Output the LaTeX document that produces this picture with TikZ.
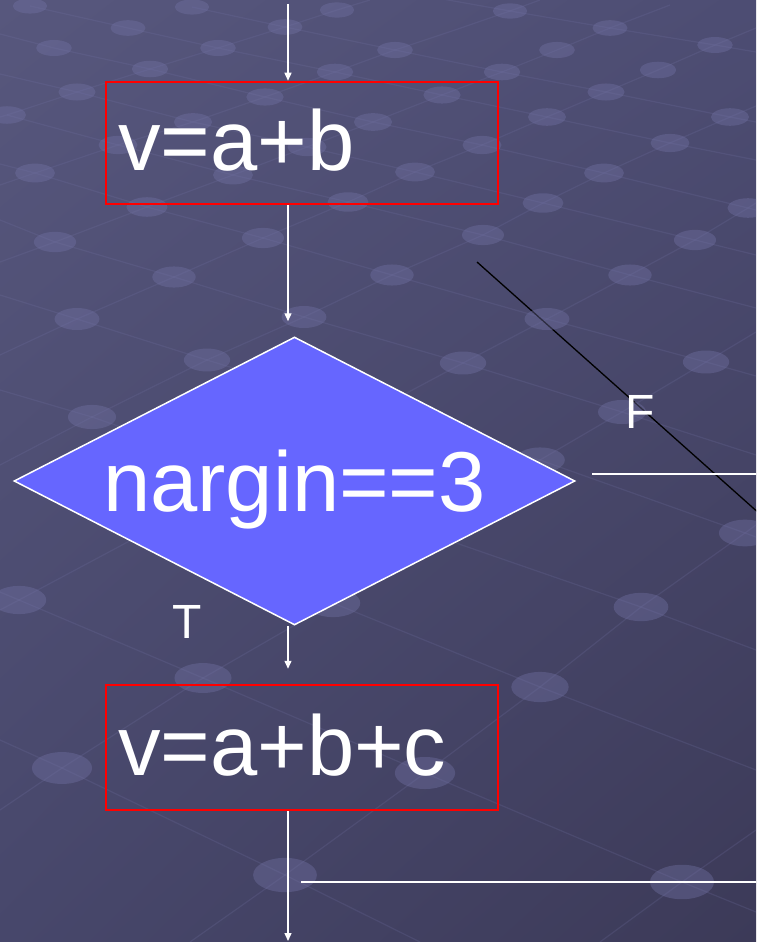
\documentclass[tikz,border=0pt]{standalone}
\usepackage{fontspec}
\setmainfont{Liberation Sans}
\usepackage{tikz}
\usetikzlibrary{shapes.geometric,arrows.meta,positioning,calc,shadings}
\usepackage{xcolor}
\definecolor{bgtopleft}{HTML}{57577D}
\definecolor{bgtopright}{HTML}{4D4D73}
\definecolor{bgbotleft}{HTML}{47476B}
\definecolor{bgbotright}{HTML}{3C3A58}
\definecolor{meshblue}{HTML}{7272A4}
\definecolor{boxred}{RGB}{255,0,0}
\definecolor{decfill}{HTML}{6666FF}

\tikzset{
  procbox/.style={draw=boxred, line width=2.5pt, minimum width=392pt, text width=368pt, inner xsep=12pt, align=left, text height=61pt, text depth=6pt, text=white, font=\fontsize{85}{100}\selectfont},
  decbox/.style={diamond, draw=white, line width=1.5pt, fill=decfill, shape aspect=1.95, minimum width=561pt, minimum height=288pt, inner sep=0pt, text height=61pt, text depth=0pt, text=white, font=\fontsize{85}{100}\selectfont},
  flow/.style={draw=white, line width=1.4pt, -{Triangle[width=7pt,length=8pt]}},
  wire/.style={draw=white, line width=1.4pt},
  branchlbl/.style={anchor=base, inner sep=0pt, text=white, font=\fontsize{48}{58}\selectfont},
  meshline/.style={draw=meshblue, draw opacity=0.22, line width=1.2pt},
  meshdot/.style={fill=meshblue, fill opacity=0.4},
}

\begin{document}
\begin{tikzpicture}[x=1pt, y=-1pt]
\useasboundingbox (0,0) rectangle (756,942);
\shade[upper left=bgtopleft, upper right=bgtopright, lower left=bgbotleft, lower right=bgbotright] (0,0) rectangle (756,942);

% background mesh
\begin{scope}
\clip (0,0) rectangle (756,942);
\draw[meshline] (30,6) -- (128,28) -- (218,48) -- (335,72) -- (442,95) -- (547,117) -- (670,143) -- (756,160);
\draw[meshline] (192,7) -- (285,27) -- (395,50) -- (502,72) -- (606,92) -- (730,117) -- (756,122);
\draw[meshline] (420,-5) -- (510,11) -- (610,28) -- (715,45) -- (756,52);
\draw[meshline] (0,34) -- (54,48) -- (150,69) -- (265,97) -- (373,122) -- (482,145) -- (604,173) -- (748,208) -- (756,210);
\draw[meshline] (0,74) -- (77,92) -- (193,122) -- (307,147) -- (415,172) -- (543,203) -- (695,240) -- (756,255);
\draw[meshline] (7,115) -- (118,145) -- (233,175) -- (348,202) -- (483,235) -- (630,275) -- (756,308);
\draw[meshline] (0,164) -- (35,173) -- (147,207) -- (263,238) -- (392,275) -- (547,319) -- (706,362) -- (756,376);
\draw[meshline] (0,220) -- (55,242) -- (174,277) -- (304,317) -- (463,363) -- (622,412) -- (756,455);
\draw[meshline] (0,295) -- (77,319) -- (207,360) -- (370,410) -- (540,460) -- (745,533) -- (756,537);
\draw[meshline] (0,390) -- (92,417) -- (641,607) -- (756,650);
\draw[meshline] (0,592) -- (19,600) -- (203,678) -- (425,773) -- (682,882) -- (756,912);
\draw[meshline] (333,603) -- (540,687) -- (756,770);
\draw[meshline] (0,740) -- (62,768) -- (285,875) -- (420,942);
\draw[meshline] (0,117) -- (7,115) -- (77,92) -- (150,69) -- (218,48) -- (285,27) -- (337,10) -- (370,0);
\draw[meshline] (0,185) -- (35,173) -- (118,145) -- (193,122) -- (265,97) -- (335,72) -- (395,50) -- (455,30) -- (510,11) -- (540,0);
\draw[meshline] (0,262) -- (55,242) -- (147,207) -- (233,175) -- (307,147) -- (373,122) -- (442,95) -- (502,72) -- (557,50) -- (610,28) -- (670,5);
\draw[meshline] (0,355) -- (77,319) -- (174,277) -- (263,238) -- (348,202) -- (415,172) -- (482,145) -- (547,117) -- (606,92) -- (658,70) -- (715,45) -- (756,28);
\draw[meshline] (0,465) -- (92,417) -- (207,360) -- (304,317) -- (392,275) -- (483,235) -- (543,203) -- (604,173) -- (670,143) -- (730,117) -- (756,106);
\draw[meshline] (0,610) -- (19,600) -- (463,363) -- (547,319) -- (630,275) -- (695,240) -- (748,208) -- (756,203);
\draw[meshline] (0,810) -- (62,768) -- (203,678) -- (333,603) -- (540,460) -- (622,412) -- (706,362) -- (756,332);
\draw[meshline] (190,942) -- (285,875) -- (425,773) -- (540,687) -- (641,607) -- (745,533) -- (756,525);
\draw[meshline] (600,942) -- (682,882) -- (756,830);
\coordinate (slashtop) at (477,262);
\coordinate (slashend) at (770,523);
\draw[black, line width=1.3pt] (slashtop) -- (slashend);
\foreach \dx/\dy in {30/6,128/28,192/7,54/48,218/48,150/69,77/92,7/115,193/122,118/145,35/173,233/175,147/207,55/242,263/238,
  285/27,337/10,335/72,265/97,442/95,373/122,307/147,482/145,415/172,348/202,502/72,395/50,510/11,610/28,715/45,557/50,658/70,
  606/92,547/117,730/117,670/143,604/173,543/203,748/208,483/235,695/240,630/275,392/275,174/277,77/319,304/317,547/319,207/360,
  463/363,706/362,92/417,622/412,540/460,745/533,19/600,333/603,641/607,203/678,540/687,62/768,425/773,285/875,682/882}
  \fill[meshdot] (\dx,\dy) ellipse [x radius={17pt+0.017pt*\dy}, y radius={7.5pt+0.011pt*\dy}];
\end{scope}

\coordinate (in) at (288,4);
\coordinate (out) at (288,941);
\node[procbox, minimum height=122pt] (box1) at (302,143) {v=a+b};
\node[decbox] (dec) at (294.5,481) {nargin==3};
\node[procbox, minimum height=125pt] (box2) at (302,747.5) {v=a+b+c};
\node[branchlbl] (flbl) at (640,428) {F};
\node[branchlbl] (tlbl) at (187,638) {T};
\coordinate (fstart) at (592,474);
\coordinate (fout) at (756,474);
\coordinate (joinL) at (301,882);
\coordinate (joinR) at (756,882);

\draw[flow] (in) -- (in |- box1.north);
\draw[flow, shorten >=15pt] (box1.south -| in) -- (dec.north -| in);
\draw[flow, shorten >=15pt] (dec.south -| in) -- (box2.north -| in);
\draw[flow] (box2.south -| in) -- (out);
\draw[wire] (fstart) -- (fout);
\draw[wire] (joinR) -- (joinL);
\end{tikzpicture}
\end{document}
